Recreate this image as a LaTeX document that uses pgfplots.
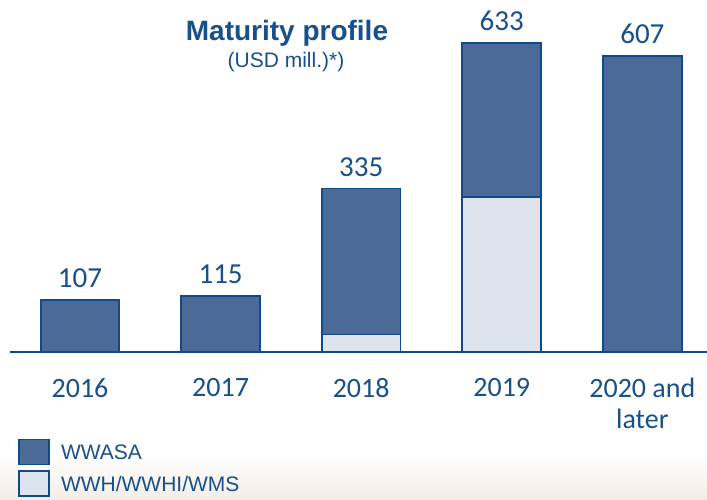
\documentclass[border=0pt]{standalone}
\usepackage{pgfplots}
\pgfplotsset{compat=1.18}
\usepackage{fontspec}
\setmainfont{Liberation Sans}
\newfontfamily\calfont{Carlito}
\definecolor{darkfill}{HTML}{4B6A98}
\definecolor{edge}{HTML}{0F4C86}
\definecolor{lightfill}{HTML}{DEE4ED}
\definecolor{txt}{HTML}{17508A}
\definecolor{beige}{HTML}{F3EDE7}
\pgfplotstableread{
x light dark total
0 0 107 107
1 0 115 115
2 36 299 335
3 318 315 633
4 0 607 607
}\datatable
\pgfplotsset{common/.style={
  at={(10pt,147pt)}, anchor=south west,
  scale only axis, width=697pt, height=352pt,
  xmin=-0.498, xmax=4.46, ymin=0, ymax=721,
  bar width=0.56, clip=false}}
\begin{document}
\begin{tikzpicture}
\useasboundingbox (0,0) rectangle (707pt,499pt);
\fill[white] (0,0) rectangle (707pt,499pt);
\shade[top color=white, bottom color=beige] (0,0) rectangle (707pt,45pt);
\node[anchor=base, font=\bfseries\fontsize{28}{30}\selectfont, text=txt, inner sep=0] at (287pt,458pt) {Maturity profile};
\node[anchor=base, font=\fontsize{21}{24}\selectfont, text=txt, inner sep=0] at (286pt,431pt) {(USD mill.)*)};
\begin{axis}[
  common,
  ybar stacked,
  axis y line=none, axis x line*=bottom,
  x axis line style={-, draw=edge, line width=1.8pt},
  xtick={0,1,2,3,4}, xticklabels={2016,2017,2018,2019,{2020 and\\later}},
  major tick length=0pt,
  xticklabel style={font=\calfont\fontsize{28}{31}\selectfont, text=txt, align=center, anchor=north, inner sep=0pt, yshift=-26pt},
  reverse legend,
  legend cell align=left,
  legend style={at={(0.0072,-0.24)}, anchor=north west, draw=none, fill=none,
    font=\fontsize{21}{23}\selectfont, text=txt, row sep=5pt,
    /tikz/every odd column/.append style={column sep=9pt}},
  legend image code/.code={\draw[#1, draw=edge, line width=1.8pt] (0pt,-12pt) rectangle (30pt,13pt);},
]
\addplot[fill=lightfill, draw=edge, line width=1.8pt] table[x=x, y=light] {\datatable};
\addlegendentry{WWH/WWHI/WMS}
\addplot[fill=darkfill, draw=edge, line width=1.8pt] table[x=x, y=dark] {\datatable};
\addlegendentry{WWASA}
\end{axis}
\begin{axis}[
  common, ybar, axis lines=none,
  /pgf/number format/assume math mode=true,
  nodes near coords,
  every node near coord/.append style={font=\calfont\fontsize{29}{30}\selectfont, text=txt, anchor=south, inner sep=0pt, yshift=12pt},
]
\addplot[draw=none, fill=none] table[x=x, y=total] {\datatable};
\end{axis}
\end{tikzpicture}
\end{document}
